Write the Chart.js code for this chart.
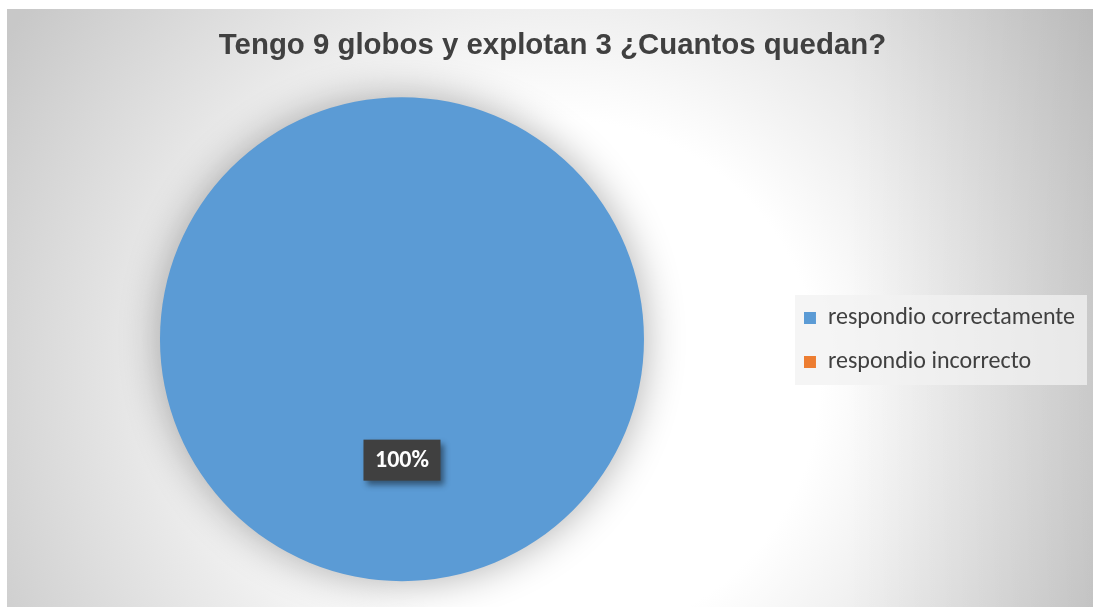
<!DOCTYPE html>
<html>
<head>
<meta charset="utf-8">
<script src="https://cdn.jsdelivr.net/npm/chart.js@4/dist/chart.umd.min.js"></script>
<style>
  html, body { margin: 0; padding: 0; background: #fff; }
  #wrap { position: absolute; left: 7px; top: 9px; width: 1086px; height: 598px; }
</style>
</head>
<body>
<div id="wrap"><canvas id="pieChart" width="1086" height="598"></canvas></div>
<script>
const chartTitle = "Tengo 9 globos y explotan 3 ¿Cuantos quedan?";
const categories = ["respondio correctamente", "respondio incorrecto"];
const values = [100, 0];
const sliceColors = ["#5B9BD5", "#ED7D31"];

// background: soft radial gradient like the Excel chart area
const bgPlugin = {
  id: "bg",
  beforeDraw(chart) {
    const ctx = chart.ctx;
    const w = chart.width, h = chart.height;
    ctx.save();
    const g = ctx.createRadialGradient(553, 371, 0, 553, 371, 650);
    g.addColorStop(0, "#ffffff");
    g.addColorStop(0.4, "#ffffff");
    g.addColorStop(1, "#c8c8c8");
    ctx.fillStyle = g;
    ctx.fillRect(0, 0, w, h);
    const lg = ctx.createLinearGradient(840, 0, w, 0);
    lg.addColorStop(0, "rgba(0,0,0,0)");
    lg.addColorStop(1, "rgba(0,0,0,0.07)");
    ctx.fillStyle = lg;
    ctx.fillRect(0, 0, w, h);

    // legend backdrop
    const lgd = chart.legend;
    if (lgd && lgd.legendHitBoxes.length) {
      const boxes = lgd.legendHitBoxes;
      const last = boxes[boxes.length - 1];
      const x0 = boxes[0].left - 9;
      const y0 = boxes[0].top - 11;
      const y1 = last.top + last.height + 11;
      ctx.fillStyle = "rgba(242,242,242,0.75)";
      ctx.fillRect(x0, y0, 292, y1 - y0);
    }
    ctx.restore();
  }
};

// shadow around the pie
const shadowPlugin = {
  id: "pieShadow",
  beforeDatasetsDraw(chart) {
    const ctx = chart.ctx;
    ctx.save();
    ctx.shadowColor = "rgba(0,0,0,0.32)";
    ctx.shadowBlur = 40;
    ctx.shadowOffsetX = 0;
    ctx.shadowOffsetY = 0;
  },
  afterDatasetsDraw(chart) {
    chart.ctx.restore();
  }
};

// "100%" label in a dark box
const labelPlugin = {
  id: "sliceLabel",
  afterDatasetsDraw(chart) {
    const ctx = chart.ctx;
    const meta = chart.getDatasetMeta(0);
    const total = values.reduce((a, b) => a + b, 0);
    meta.data.forEach((arc, i) => {
      if (!values[i]) return;
      const p = arc.getCenterPoint();
      const txt = Math.round(values[i] / total * 100) + "%";
      ctx.save();
      ctx.font = "bold 24px Carlito, Lato, 'Liberation Sans', sans-serif";
      const bw = 77, bh = 41;
      ctx.shadowColor = "rgba(0,0,0,0.45)";
      ctx.shadowBlur = 6;
      ctx.shadowOffsetX = 4;
      ctx.shadowOffsetY = 4;
      ctx.fillStyle = "#404040";
      ctx.fillRect(p.x - bw / 2, p.y - bh / 2, bw, bh);
      ctx.shadowColor = "transparent";
      ctx.fillStyle = "#ffffff";
      ctx.textAlign = "center";
      ctx.textBaseline = "middle";
      ctx.fillText(txt, p.x, p.y + 1);
      ctx.restore();
    });
  }
};

new Chart(document.getElementById("pieChart"), {
  type: "pie",
  data: {
    labels: categories,
    datasets: [{
      data: values,
      backgroundColor: sliceColors,
      borderWidth: 0,
      hoverOffset: 0,
      radius: 242
    }]
  },
  options: {
    responsive: false,
    animation: false,
    layout: { padding: { left: 13, right: 8, top: 0, bottom: 4 } },
    plugins: {
      title: {
        display: true,
        text: chartTitle,
        color: "#404040",
        font: { family: "'Liberation Sans', Arial, sans-serif", size: 29.4, weight: "bold" },
        padding: { top: 19, bottom: 12 }
      },
      legend: {
        position: "right",
        title: { display: true, text: " ", font: { size: 10 }, padding: { top: 28, bottom: 28 } },
        labels: {
          boxWidth: 12,
          boxHeight: 12,
          padding: 20,
          color: "#404040",
          font: { family: "Carlito, Lato, 'Noto Sans', sans-serif", size: 24 }
        }
      },
      tooltip: { enabled: false }
    }
  },
  plugins: [bgPlugin, shadowPlugin, labelPlugin]
});
</script>
</body>
</html>
